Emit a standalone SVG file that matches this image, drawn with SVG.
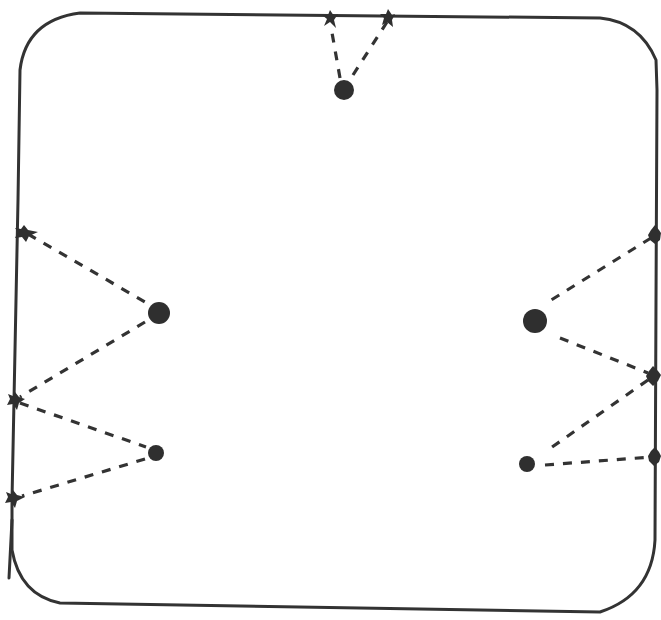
<svg xmlns="http://www.w3.org/2000/svg" width="661" height="620" viewBox="0 0 661 620">
<style>
.border{fill:none;stroke:#333;stroke-width:3;stroke-linecap:round}
.dash{fill:none;stroke:#333;stroke-width:3.2;stroke-dasharray:9 9;stroke-linecap:butt}
.dot{fill:#2f2f2f}
.star{fill:#2f2f2f}
</style>
<rect width="661" height="620" fill="#fff"/>
<g id="frame">
<path class="border" d="M80,13 L600,18 Q640,22 656,60 L657,90 L656,300 L655,540 Q652,595 600,612 L60,603 Q20,595 12,550 L12,500 L18,200 L20,70 Q26,20 80,13 Z"/>
<path class="border" d="M12,520 L9,578"/>
</g>
<g id="connectors">
<path class="dash" d="M340,78 L331,27"/>
<path class="dash" d="M353,75 L387,22"/>
<path class="dash" d="M28,234 L145,302"/>
<path class="dash" d="M145,322 L20,397"/>
<path class="dash" d="M20,403 L146,447"/>
<path class="dash" d="M145,459 L22,496"/>
<path class="dash" d="M651,238 L548,302"/>
<path class="dash" d="M560,338 L648,373"/>
<path class="dash" d="M648,380 L545,452"/>
<path class="dash" d="M545,465 L651,457"/>
</g>
<g id="top-stars">
<path class="star" d="M330,10 L334,16 L338,14 L334,20 L336,28 L330,22 L324,26 L327,19 L322,15 L328,15 Z"/>
<path class="star" d="M388,9 L392,15 L395,14 L392,20 L393,27 L387,22 L382,25 L384,18 L380,14 L386,14 Z"/>
</g>
<g id="left-stars">
<path class="star" d="M24,225 L28,230 L38,232 L29,236 L26,242 L22,237 L15,238 L18,232 L15,228 L21,229 Z"/>
<path class="star" d="M15,392 L19,397 L25,399 L19,403 L17,410 L13,404 L7,405 L10,399 L8,394 L13,396 Z"/>
<path class="star" d="M13,490 L17,495 L25,497 L17,501 L15,508 L11,502 L5,503 L8,497 L6,492 L11,494 Z"/>
</g>
<g id="right-stars">
<path class="star" d="M655,225 L659,230 L661,233 L660,240 L655,244 L650,240 L648,235 L651,230 Z"/>
<path class="star" d="M653,366 L658,371 L661,375 L658,381 L653,386 L648,381 L646,376 L649,371 Z"/>
<path class="star" d="M655,447 L659,452 L661,456 L659,462 L654,466 L649,461 L648,456 L651,451 Z"/>
</g>
<g id="node-top"><circle class="dot" cx="344" cy="90" r="10"/></g>
<g id="node-left-big"><circle class="dot" cx="159" cy="313" r="11"/></g>
<g id="node-left-small"><circle class="dot" cx="156" cy="453" r="8"/></g>
<g id="node-right-big"><circle class="dot" cx="535" cy="321" r="12"/></g>
<g id="node-right-small"><circle class="dot" cx="527" cy="464" r="8"/></g>
</svg>
